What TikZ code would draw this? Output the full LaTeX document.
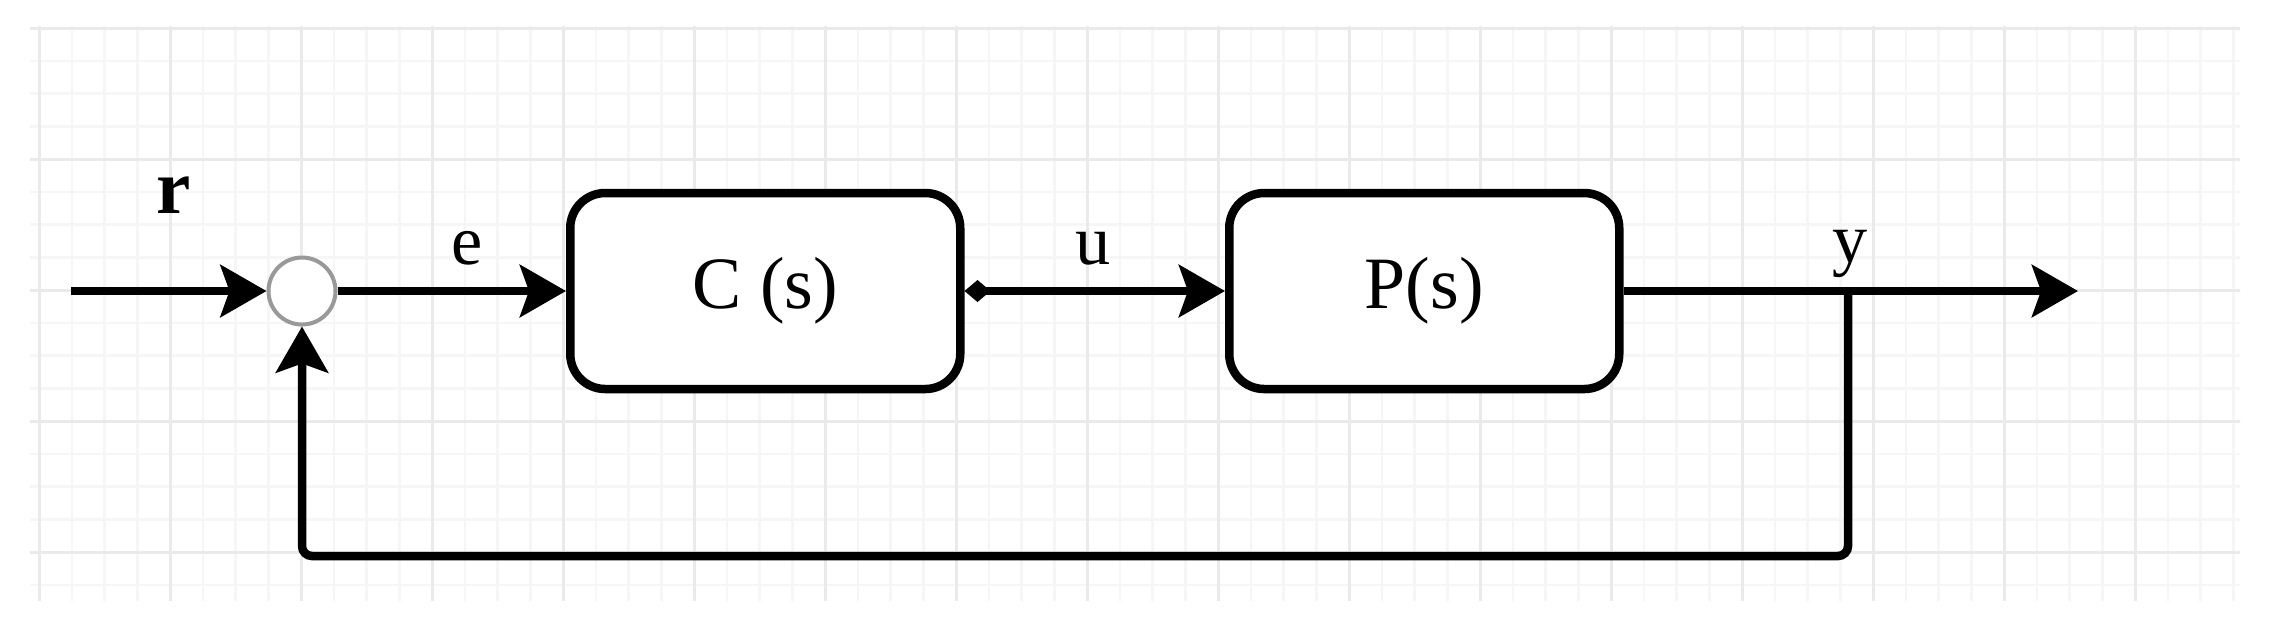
\documentclass[tikz,border=0pt]{standalone}
\usepackage{fontspec}
\setmainfont{Liberation Serif}
\usetikzlibrary{arrows.meta,positioning}
\definecolor{gridminor}{HTML}{F6F6F6}
\definecolor{gridmajor}{HTML}{EAEAEA}
\definecolor{sumgray}{HTML}{999999}

\begin{document}
\begin{tikzpicture}[x=0.1mm,y=-0.1mm,line width=0.85mm,
  >={Stealth[length=4.6mm,width=5.2mm,inset=0.9mm]},
  block/.style={draw,fill=white,rounded corners=3.5mm,minimum width=39mm,minimum height=19.6mm,inner sep=0pt,font=\fontsize{21}{25}\selectfont},
  sumnode/.style={circle,draw=sumgray,line width=0.4mm,fill=white,minimum size=6.7mm,inner sep=0pt},
  lbl/.style={anchor=base,inner sep=0pt,font=\fontsize{20}{24}\selectfont}]
\useasboundingbox (0,0) rectangle (2270,636);
% grid background
\begin{scope}
\clip (30,26) rectangle (2240,600);
\begin{scope}[shift={(39,290)}]
\draw[gridminor,line width=0.25mm,step=3.275mm] (-20,-270) grid (2210,320);
\draw[gridmajor,line width=0.3mm,step=13.1mm] (-20,-270) grid (2210,320);
\end{scope}
\end{scope}
% blocks
\node[sumnode] (sum) at (302,291) {};
\node[block,right=22.85mm of sum] (ctrl) {C (s)};
\node[block,right=26.05mm of ctrl] (plant) {P(s)};
\coordinate (in) at (71,291);
\coordinate (out) at (2078,291);
\coordinate (tap) at (1848,291);
\coordinate (fb) at (1848,556);
% labels
\node[lbl,font=\fontsize{22}{26}\selectfont\bfseries] (rlbl) at (174,213) {r};
\node[lbl] (elbl) at (467,264) {e};
\node[lbl] (ulbl) at (1093,264) {u};
\node[lbl] (ylbl) at (1850,262) {y};
% connectors
\draw[->] (in) -- (sum);
\draw[->] (sum) -- (ctrl);
\draw[{Diamond[length=2.6mm,width=2.2mm]}->] (ctrl) -- (plant);
\draw[->] (plant) -- (out);
\draw[->,rounded corners=1mm] (tap) -- (fb) -| (sum);
\end{tikzpicture}
\end{document}
